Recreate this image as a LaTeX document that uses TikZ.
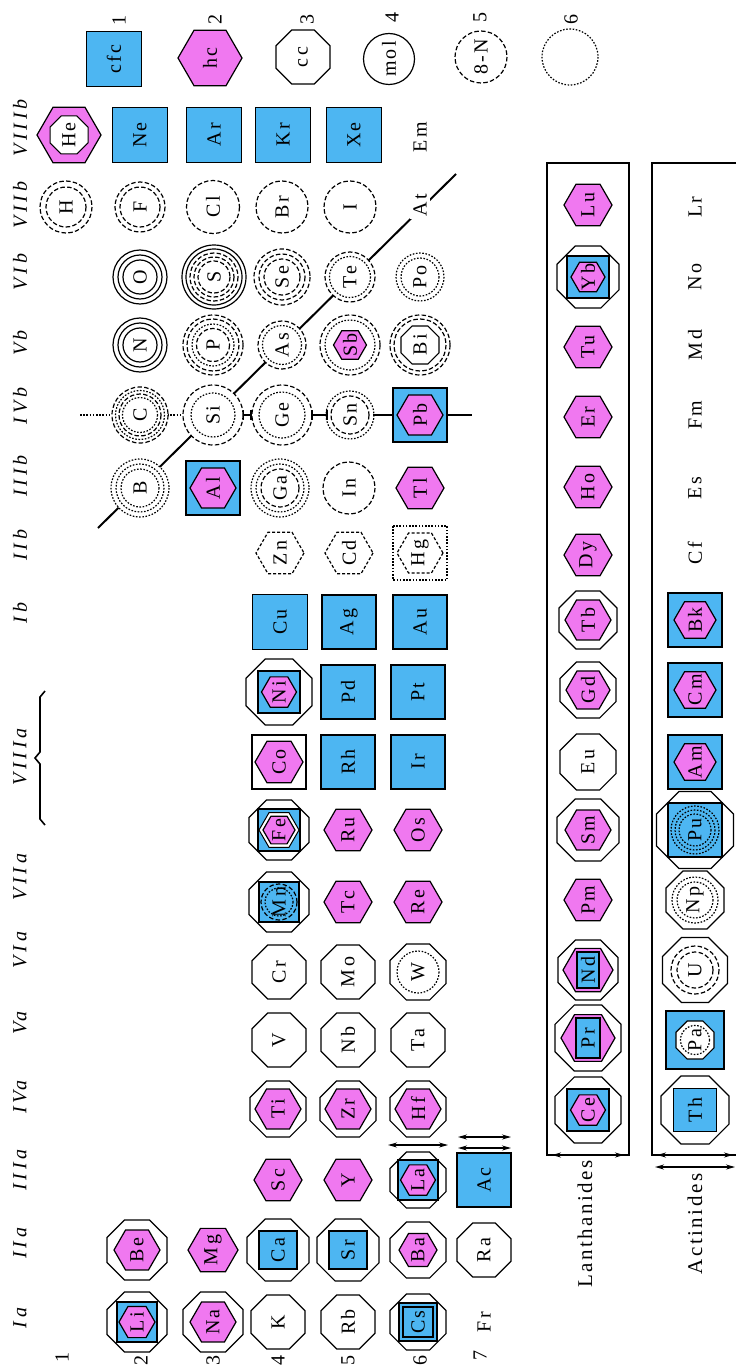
\documentclass[tikz,border=0pt]{standalone}
\usepackage{fontspec}
\setmainfont{Liberation Serif}
\newfontfamily\elff{Liberation Serif}[LetterSpace=12]
\newfontfamily\grpff{Liberation Serif}[LetterSpace=18]
\usetikzlibrary{arrows.meta}
\definecolor{bl}{RGB}{77,182,242}
\definecolor{pk}{RGB}{240,120,240}
\newcommand\Oct[3][oc]{\path[#1,shift={(#2)}] (22.5:{1.0824*#3}) -- (67.5:{1.0824*#3}) -- (112.5:{1.0824*#3}) -- (157.5:{1.0824*#3}) -- (202.5:{1.0824*#3}) -- (247.5:{1.0824*#3}) -- (292.5:{1.0824*#3}) -- (337.5:{1.0824*#3}) -- cycle;}
\newcommand\Hex[3][hc]{\path[#1,shift={(#2)}] (0:#3) -- (60:#3) -- (120:#3) -- (180:#3) -- (240:#3) -- (300:#3) -- cycle;}
\newcommand\Sq[3][fc]{\path[#1,shift={(#2)}] (-#3,-#3) rectangle (#3,#3);}
\newcommand\Ring[3][ds]{\path[#1] (#2) circle[radius=#3];}
\begin{document}
\begin{tikzpicture}[x=1pt,y=-1pt,
  oc/.style={draw,fill=white,line width=1.2pt},
  hc/.style={draw,fill=pk,line width=1.2pt},
  fc/.style={draw,fill=bl,line width=1.2pt},
  wh/.style={draw,fill=white,line width=1pt},
  sl/.style={draw,line width=1.2pt},
  ds/.style={draw,line width=1.2pt,dash pattern=on 4.5pt off 2.3pt},
  dt/.style={draw,line width=1.2pt,dash pattern=on 1.6pt off 1.6pt},
  hds/.style={draw,line width=1.2pt,dash pattern=on 3pt off 2pt},
  el/.style={rotate=90,inner sep=0pt,font=\elff\fontsize{20}{20}\selectfont},
  grp/.style={rotate=90,inner sep=0pt,font=\grpff\itshape\fontsize{20}{20}\selectfont},
  big/.style={rotate=90,inner sep=0pt,font=\elff\fontsize{21}{21}\selectfont},
  arr/.style={line width=1.2pt,>={Stealth[length=9pt,width=5pt]},<->},
  frame/.style={line width=1.8pt}]
\useasboundingbox (0,0) rectangle (736,1367);

% ---------- legend ----------
\Sq{114,59}{27.5} \node[el] (lcfc) at (114,59) {cfc};
\Hex{210,58}{32} \node[el] (lhc) at (210,58) {hc};
\Oct{303,57}{27} \node[el] (lcc) at (303,57) {cc};
\Ring[sl]{389,59}{25.5} \node[el] (lmol) at (389,59) {mol};
\Ring[ds]{481,57}{26} \node[el] (lN) at (481,57) {8-N};
\Ring[dt]{570,57}{28} \coordinate (lsix) at (570,57);
\node[el] (n1) at (119,21) {1};
\node[el] (n2) at (215,20) {2};
\node[el] (n3) at (307,20) {3};
\node[el] (n4) at (392,18) {4};
\node[el] (n5) at (480,18) {5};
\node[el] (n6) at (571,20) {6};

% ---------- group labels ----------
\node[grp] (gIa) at (20,1318) {Ia};
\node[grp] (gIIa) at (20,1243) {IIa};
\node[grp] (gIIIa) at (20,1170) {IIIa};
\node[grp] (gIVa) at (20,1097) {IVa};
\node[grp] (gVa) at (20,1023) {Va};
\node[grp] (gVIa) at (20,950) {VIa};
\node[grp] (gVIIa) at (20,877) {VIIa};
\node[grp] (gVIIIa) at (20,757) {VIIIa};
\node[grp] (gIb) at (20,613) {Ib};
\node[grp] (gIIb) at (20,545) {IIb};
\node[grp] (gIIIb) at (20,476) {IIIb};
\node[grp] (gIVb) at (20,406) {IVb};
\node[grp] (gVb) at (20,343) {Vb};
\node[grp] (gVIb) at (20,272) {VIb};
\node[grp] (gVIIb) at (20,205) {VIIb};
\node[grp] (gVIIIb) at (20,128) {VIIIb};
\draw[line width=1.6pt] (45,691) -- (40,697) -- (40,752) -- (35,758) -- (40,764) -- (40,819) -- (45,825);

% ---------- period labels ----------
\node[el] (p1) at (62,1357) {1};
\node[el] (p2) at (141,1360) {2};
\node[el] (p3) at (213,1360) {3};
\node[el] (p4) at (278,1360) {4};
\node[el] (p5) at (348,1360) {5};
\node[el] (p6) at (420,1360) {6};
\node[el] (p7) at (480,1355) {7};

% ---------- metal / non-metal boundary lines ----------
\coordinate (dA) at (98,528); \coordinate (dB) at (456,174);
\draw[line width=2pt] (dA) -- (dB);
\coordinate (h0) at (80,415); \coordinate (h1) at (113,415);
\coordinate (h2) at (167,415); \coordinate (h3) at (184,415);
\coordinate (h4) at (243,415); \coordinate (h5) at (251,415);
\coordinate (h6) at (312,415); \coordinate (h7) at (327,415);
\coordinate (h8) at (373,415); \coordinate (h9) at (393,415);
\coordinate (h10) at (447,415); \coordinate (h11) at (472,415);
\draw[line width=1.4pt,dash pattern=on 1.6pt off 1.6pt] (h0) -- (h1) (h2) -- (h3);
\draw[line width=1.8pt] (h4) -- (h5) (h6) -- (h7) (h8) -- (h9) (h10) -- (h11);
\draw[line width=1.4pt] ([yshift=-5pt]h4) -- ([yshift=5pt]h4) ([yshift=-5pt]h5) -- ([yshift=5pt]h5)
  ([yshift=-5pt]h6) -- ([yshift=5pt]h6) ([yshift=-5pt]h7) -- ([yshift=5pt]h7);

% ---------- VIIIb ----------
\Hex{69,135}{32} \Oct[wh]{69,135}{19} \node[el] (He) at (69,135) {He};
\Sq{140,135}{27.5} \node[el] (Ne) at (140,135) {Ne};
\Sq{214,135}{27.5} \node[el] (Ar) at (214,135) {Ar};
\Sq{283,135}{27.5} \node[el] (Kr) at (283,135) {Kr};
\Sq{354,135}{27.5} \node[el] (Xe) at (354,135) {Xe};
\node[el] (Em) at (420,137) {Em};

% ---------- VIIb ----------
\Ring[ds,fill=white]{66,207}{26} \Ring[ds]{66,207}{20} \node[el] (H) at (66,207) {H};
\Ring[ds]{140,207}{25} \Ring[ds]{140,207}{20} \node[el] (F) at (140,207) {F};
\Ring[ds]{213,207}{26.5} \node[el] (Cl) at (213,207) {Cl};
\Ring[ds]{282,207}{26} \node[el] (Br) at (282,207) {Br};
\Ring[ds]{350,207}{26} \node[el] (I) at (350,207) {I};
\node[el,fill=white,inner sep=3pt] (At) at (420,205) {At};

% ---------- VIb ----------
\Ring[sl]{140,277}{27} \Ring[sl]{140,277}{22} \Ring[sl]{140,277}{17} \node[el] (O) at (140,277) {O};
\Ring[sl]{214,277}{32} \Ring[sl]{214,277}{28} \Ring[ds]{214,277}{24} \Ring[ds]{214,277}{20} \Ring[ds]{214,277}{16} \node[el] (S) at (214,277) {S};
\Ring[ds]{282,277}{28} \Ring[ds]{282,277}{23} \Ring[ds]{282,277}{18} \node[el] (Se) at (282,277) {Se};
\Ring[ds,fill=white]{350,277}{25} \Ring[dt]{350,277}{20.5} \node[el] (Te) at (350,277) {Te};
\Ring[dt]{420,277}{24} \Ring[dt]{420,277}{19} \node[el] (Po) at (420,277) {Po};

% ---------- Vb ----------
\Ring[sl]{140,345}{27} \Ring[sl]{140,345}{22} \Ring[sl]{140,345}{17} \node[el] (N) at (140,345) {N};
\Ring[ds]{213,345}{30} \Ring[ds]{213,345}{26} \Ring[dt]{213,345}{21} \Ring[ds]{213,345}{16.5} \node[el] (P) at (213,345) {P};
\Ring[ds,fill=white]{282,345}{24} \Ring[dt]{282,345}{19.5} \node[el] (As) at (282,345) {As};
\Ring[ds]{350,345}{30} \Ring[dt]{350,345}{25} \Hex{350,345}{16.5} \node[el] (Sb) at (350,345) {Sb};
\Ring[ds]{420,345}{30} \Ring[ds]{420,345}{26} \Oct{420,345}{19} \node[el] (Bi) at (420,345) {Bi};

% ---------- IVb ----------
\Ring[ds,fill=white]{140,415}{28} \Ring[dt]{140,415}{24.5} \Ring[ds]{140,415}{21} \Ring[dt]{140,415}{17.5} \node[el] (C) at (140,415) {C};
\Ring[ds,fill=white]{213,415}{30} \Ring[dt]{213,415}{22} \node[el] (Si) at (213,415) {Si};
\Ring[ds]{282,415}{30} \Ring[dt]{282,415}{23} \node[el] (Ge) at (282,415) {Ge};
\Ring[dt]{350,415}{24} \Ring[ds]{350,415}{19} \node[el] (Sn) at (350,415) {Sn};
\Sq{420,415}{27} \Hex{420,415}{23} \node[el] (Pb) at (420,415) {Pb};

% ---------- IIIb ----------
\Ring[dt,fill=white]{140,488}{29} \Ring[dt]{140,488}{24} \Ring[dt]{140,488}{19} \node[el] (B) at (140,488) {B};
\Sq{213,488}{27} \Hex{213,488}{23} \node[el] (Al) at (213,488) {Al};
\Ring[dt]{280,488}{29} \Ring[dt]{280,488}{24} \Ring[ds]{280,488}{19} \node[el] (Ga) at (280,488) {Ga};
\Ring[ds]{349,488}{26} \node[el] (In) at (349,488) {In};
\Hex{420,488}{24} \node[el] (Tl) at (420,488) {Tl};

% ---------- IIb ----------
\Hex[hds]{280,553}{24} \node[el] (Zn) at (280,553) {Zn};
\Hex[hds]{349,553}{24} \node[el] (Cd) at (349,553) {Cd};
\Sq[dt]{420,553}{27} \Hex[hds]{420,553}{23} \node[el] (Hg) at (420,553) {Hg};

% ---------- Ib ----------
\Sq{280,622}{27.5} \node[el] (Cu) at (280,622) {Cu};
\Sq{349,622}{27} \node[el] (Ag) at (349,622) {Ag};
\Sq{420,622}{27} \node[el] (Au) at (420,622) {Au};

% ---------- VIIIa ----------
\Oct{279,692}{33} \Sq{279,692}{21} \Hex{279,692}{17.5} \node[el] (Ni) at (279,692) {Ni};
\Sq{348,692}{27} \node[el] (Pd) at (348,692) {Pd};
\Sq{418,692}{27} \node[el] (Pt) at (418,692) {Pt};
\Sq[sl]{279,762}{27} \Hex{279,762}{24} \node[el] (Co) at (279,762) {Co};
\Sq{348,762}{27} \node[el] (Rh) at (348,762) {Rh};
\Sq{418,762}{27} \node[el] (Ir) at (418,762) {Ir};
\Oct{279,830}{30} \Sq{279,830}{21} \Hex[wh]{279,830}{20} \Hex{279,830}{16} \node[el] (Fe) at (279,830) {Fe};
\Hex{348,830}{24} \node[el] (Ru) at (348,830) {Ru};
\Hex{418,830}{24} \node[el] (Os) at (418,830) {Os};

% ---------- VIIa ----------
\Oct{279,902}{30} \Sq{279,902}{20} \Ring[ds]{279,902}{18} \Ring[dt]{279,902}{14} \node[el] (Mn) at (279,902) {Mn};
\Hex{348,902}{24} \node[el] (Tc) at (348,902) {Tc};
\Hex{418,902}{24} \node[el] (Re) at (418,902) {Re};

% ---------- VIa ----------
\Oct{279,972}{27} \node[el] (Cr) at (279,972) {Cr};
\Oct{348,972}{27} \node[el] (Mo) at (348,972) {Mo};
\Oct{418,972}{28} \Ring[dt]{418,972}{21} \node[el] (W) at (418,972) {W};

% ---------- Va ----------
\Oct{279,1040}{27} \node[el] (V) at (279,1040) {V};
\Oct{348,1040}{27} \node[el] (Nb) at (348,1040) {Nb};
\Oct{418,1040}{27} \node[el] (Ta) at (418,1040) {Ta};

% ---------- IVa ----------
\Oct{278,1109}{28} \Hex{278,1109}{23} \node[el] (Ti) at (278,1109) {Ti};
\Oct{348,1109}{28} \Hex{348,1109}{23} \node[el] (Zr) at (348,1109) {Zr};
\Oct{418,1109}{28} \Hex{418,1109}{23} \node[el] (Hf) at (418,1109) {Hf};

% ---------- IIIa ----------
\Hex{278,1180}{24} \node[el] (Sc) at (278,1180) {Sc};
\Hex{348,1180}{24} \node[el] (Y) at (348,1180) {Y};
\Oct{418,1180}{28} \Sq{418,1180}{20} \Hex{418,1180}{17.5} \node[el] (La) at (418,1180) {La};
\Sq{484,1180}{27} \node[el] (Ac) at (484,1180) {Ac};
\coordinate (la1) at (388,1145); \coordinate (la2) at (448,1145);
\draw[arr] (la1) -- (la2);
\coordinate (ac1) at (458,1137); \coordinate (ac2) at (511,1137);
\coordinate (ac3) at (458,1148); \coordinate (ac4) at (511,1148);
\draw[arr] (ac1) -- (ac2);
\draw[arr] (ac3) -- (ac4);

% ---------- IIa ----------
\Oct{137,1250}{30} \Hex{137,1250}{23} \node[el] (Be) at (137,1250) {Be};
\Hex{213,1250}{25} \node[el] (Mg) at (213,1250) {Mg};
\Oct{278,1250}{31} \Sq{278,1250}{19} \node[el] (Ca) at (278,1250) {Ca};
\Oct{348,1250}{31} \Sq{348,1250}{19} \node[el] (Sr) at (348,1250) {Sr};
\Oct{418,1250}{28} \Hex{418,1250}{19} \node[el] (Ba) at (418,1250) {Ba};
\Oct{484,1250}{27} \node[el] (Ra) at (484,1250) {Ra};

% ---------- Ia ----------
\Oct{137,1322}{30} \Sq{137,1322}{20} \Hex{137,1322}{18} \node[el] (Li) at (137,1322) {Li};
\Oct{213,1322}{30} \Hex{213,1322}{23} \node[el] (Na) at (213,1322) {Na};
\Oct{278,1322}{27} \node[el] (K) at (278,1322) {K};
\Oct{348,1322}{27} \node[el] (Rb) at (348,1322) {Rb};
\Oct{418,1322}{28} \Sq{418,1322}{19} \Sq[sl]{418,1322}{15} \node[el] (Cs) at (418,1322) {Cs};
\node[el] (Fr) at (484,1322) {Fr};

% ---------- Lanthanides ----------
\draw[frame] (547,1155) -- (547,163) -- (629,163) -- (629,1155) -- cycle;
\coordinate (lb1) at (552,1155); \coordinate (lb2) at (624,1155);
\draw[arr,line width=1.4pt] (lb1) -- (lb2);
\node[big] (Lan) at (585,1224) {Lanthanides};
\Oct{588,1110}{33} \Sq{588,1110}{21} \Hex{588,1110}{17.5} \node[el] (Ce) at (588,1110) {Ce};
\Oct{588,1038}{33} \Hex{588,1038}{27} \path[fc] (576,1018) rectangle (600,1058); \node[el] (Pr) at (588,1038) {Pr};
\Oct{588,970}{30} \Hex{588,970}{25} \path[fc] (577,952) rectangle (599,988); \node[el] (Nd) at (588,970) {Nd};
\Hex{588,900}{24} \node[el] (Pm) at (588,900) {Pm};
\Oct{588,830}{31} \Hex{588,830}{23} \node[el] (Sm) at (588,830) {Sm};
\Oct{588,762}{28} \node[el] (Eu) at (588,762) {Eu};
\Oct{588,690}{28} \Hex{588,690}{22} \node[el] (Gd) at (588,690) {Gd};
\Oct{588,620}{29} \Hex{588,620}{23} \node[el] (Tb) at (588,620) {Tb};
\Hex{588,555}{24} \node[el] (Dy) at (588,555) {Dy};
\Hex{588,487}{24} \node[el] (Ho) at (588,487) {Ho};
\Hex{588,417}{24} \node[el] (Er) at (588,417) {Er};
\Hex{588,347}{24} \node[el] (Tu) at (588,347) {Tu};
\Oct{588,277}{31} \Sq{588,277}{21} \Hex{588,277}{17} \node[el] (Yb) at (588,277) {Yb};
\Hex{588,205}{24} \node[el] (Lu) at (588,205) {Lu};

% ---------- Actinides ----------
\draw[frame] (736,163) -- (652,163) -- (652,1155) -- (736,1155);
\coordinate (ab1) at (657,1155); \coordinate (ab2) at (733,1155);
\coordinate (ab3) at (655,1167); \coordinate (ab4) at (735,1167);
\draw[arr,line width=1.4pt] (ab1) -- (ab2);
\draw[arr,line width=1.4pt] (ab3) -- (ab4);
\node[big] (Act) at (695,1224) {Actinides};
\Oct{695,1110}{34} \Sq{695,1110}{21.5} \node[el] (Th) at (695,1110) {Th};
\Sq{695,1040}{29} \Oct{695,1040}{19} \Ring[dt]{695,1040}{14.5} \node[el] (Pa) at (695,1040) {Pa};
\Oct{695,970}{32.5} \Ring[ds]{695,970}{24} \Ring[ds]{695,970}{18} \node[el] (U) at (695,970) {U};
\Oct{695,900}{29} \Ring[dt]{695,900}{23} \Ring[dt]{695,900}{18} \node[el] (Np) at (695,900) {Np};
\Oct{695,830}{38.5} \Sq{695,830}{27} \Ring[dt]{695,830}{24} \Ring[dt]{695,830}{20} \Ring[dt]{695,830}{16} \node[el] (Pu) at (695,830) {Pu};
\Sq{695,762}{27} \Hex{695,762}{21} \node[el] (Am) at (695,762) {Am};
\Sq{695,690}{27} \Hex{695,690}{21} \node[el] (Cm) at (695,690) {Cm};
\Sq{695,620}{27} \Hex{695,620}{21} \node[el] (Bk) at (695,620) {Bk};
\node[el] (Cf) at (695,553) {Cf};
\node[el] (Es) at (695,488) {Es};
\node[el] (Fm) at (695,415) {Fm};
\node[el] (Md) at (695,345) {Md};
\node[el] (No) at (695,277) {No};
\node[el] (Lr) at (695,207) {Lr};
\end{tikzpicture}
\end{document}
